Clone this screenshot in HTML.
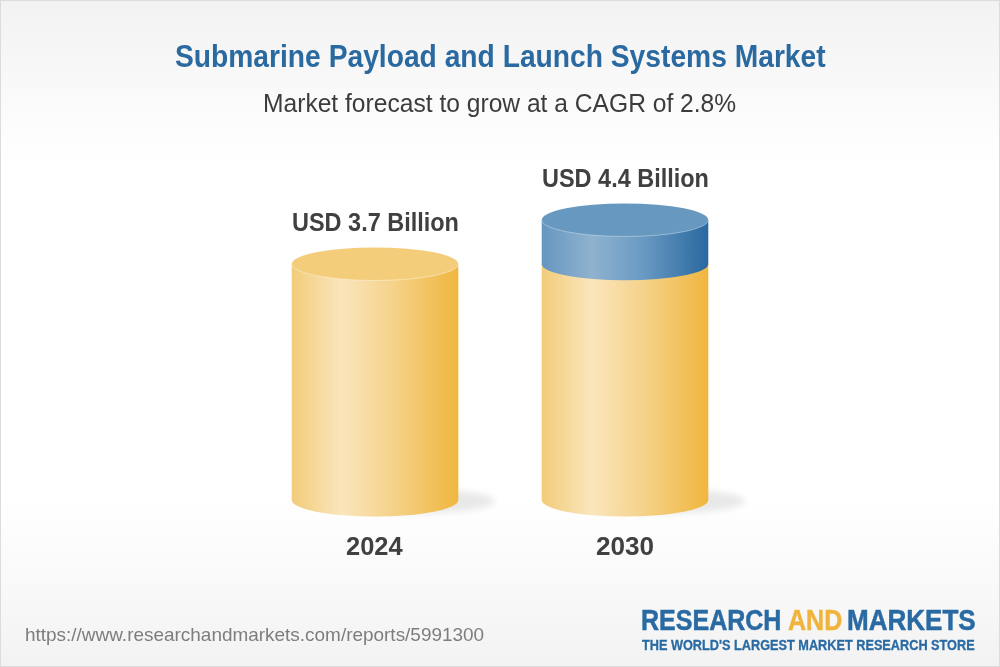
<!DOCTYPE html>
<html><head><meta charset="utf-8">
<style>
html,body{margin:0;padding:0;}
body{width:1000px;height:667px;overflow:hidden;position:relative;font-family:"Liberation Sans",sans-serif;}
#bg{position:absolute;left:0;top:0;width:998px;height:665px;border:1px solid #dcdcdc;
background:linear-gradient(to bottom,#f2f2f2 0px,#fbfbfb 108px,#ffffff 165px,#ffffff 495px,#f9f9f9 585px,#f2f2f2 667px);}
.t{position:absolute;white-space:nowrap;line-height:1;transform-origin:0 0;}
#title{left:175px;top:40px;font-size:32px;font-weight:bold;color:#2a6aa0;}
#sub{left:265px;top:89px;font-size:26px;color:#3c3c3c;}
.val{font-size:26px;font-weight:bold;color:#404040;}
.yr{font-size:26px;font-weight:bold;color:#404040;}
#url{left:26px;top:625px;font-size:19px;color:#7c7c7c;}
#logo1{left:642px;top:606px;font-size:28px;font-weight:bold;color:#2a6aa3;}
#logo1 span{color:#f0b53c;}
#logo2{left:642px;top:637px;font-size:14px;font-weight:bold;color:#2a6aa3;}
svg{position:absolute;left:0;top:0;}
</style></head><body>
<div id="bg"></div>
<svg width="1000" height="667" viewBox="0 0 1000 667">
<defs>
<linearGradient id="ys" x1="0" x2="1" y1="0" y2="0">
<stop offset="0" stop-color="#f2cc7a"/>
<stop offset="0.3" stop-color="#fae5bc"/>
<stop offset="0.6" stop-color="#f5d38c"/>
<stop offset="1" stop-color="#f0b63e"/>
</linearGradient>
<linearGradient id="bs" x1="0" x2="1" y1="0" y2="0">
<stop offset="0" stop-color="#6596c0"/>
<stop offset="0.3" stop-color="#8fb2cf"/>
<stop offset="0.6" stop-color="#6a9bc3"/>
<stop offset="1" stop-color="#2a68a0"/>
</linearGradient>
<filter id="blur" x="-50%" y="-50%" width="200%" height="200%"><feGaussianBlur stdDeviation="3.5"/></filter>
</defs>
<!-- shadows -->
<ellipse cx="415" cy="501" rx="80" ry="12.5" fill="#000" opacity="0.085" filter="url(#blur)"/>
<ellipse cx="665" cy="501" rx="80" ry="12.5" fill="#000" opacity="0.085" filter="url(#blur)"/>
<!-- cylinder 1 -->
<path d="M291.7 264 V500 A83.3 16.5 0 0 0 458.3 500 V264 Z" fill="url(#ys)"/>
<ellipse cx="375" cy="264" rx="83.3" ry="16.5" fill="#f3cd7a"/>
<path d="M291.7 264 A83.3 16.5 0 0 0 458.3 264" fill="none" stroke="#fff" stroke-opacity="0.45" stroke-width="0.9"/>
<!-- cylinder 2 -->
<path d="M541.7 264 V500 A83.3 16.5 0 0 0 708.3 500 V264 Z" fill="url(#ys)"/>
<path d="M541.7 220 V264 A83.3 16.3 0 0 0 708.3 264 V220 Z" fill="url(#bs)"/>
<ellipse cx="625" cy="220" rx="83.3" ry="16.5" fill="#6698c0"/>
<path d="M541.7 220 A83.3 16.5 0 0 0 708.3 220" fill="none" stroke="#fff" stroke-opacity="0.4" stroke-width="0.9"/>
</svg>
<div class="t" id="title" style="left:174.60px;top:40.00px;font-size:32px;font-weight:bold;color:#2a6aa0;transform:scaleX(0.8816);">Submarine Payload and Launch Systems Market</div>
<div class="t" id="sub" style="left:263.00px;top:90.20px;font-size:26px;font-weight:normal;color:#3c3c3c;transform:scaleX(0.9464);">Market forecast to grow at a CAGR of 2.8%</div>
<div class="t" id="v1" style="left:292.20px;top:210.40px;font-size:25.5px;font-weight:bold;color:#404040;transform:scaleX(0.9204);">USD 3.7 Billion</div>
<div class="t" id="v2" style="left:542.20px;top:166.00px;font-size:25.5px;font-weight:bold;color:#404040;transform:scaleX(0.9204);">USD 4.4 Billion</div>
<div class="t" id="y1" style="left:345.98px;top:534.00px;font-size:25.5px;font-weight:bold;color:#404040;transform:scaleX(0.9978);">2024</div>
<div class="t" id="y2" style="left:595.96px;top:534.00px;font-size:25.5px;font-weight:bold;color:#404040;transform:scaleX(1.0237);">2030</div>
<div class="t" id="url" style="left:25.15px;top:625.60px;font-size:18.5px;font-weight:normal;color:#7d7d7d;transform:scaleX(1.0241);">https://www.researchandmarkets.com/reports/5991300</div>
<div class="t" id="l1" style="left:641.04px;top:606.40px;font-size:29px;font-weight:bold;color:#2a6aa3;transform:scaleX(0.8628);-webkit-text-stroke:0.5px #2a6aa3;">RESEARCH</div>
<div class="t" id="l2" style="left:788.46px;top:606.40px;font-size:29px;font-weight:bold;color:#f0b43c;transform:scaleX(0.8632);-webkit-text-stroke:0.5px #f0b43c;">AND</div>
<div class="t" id="l3" style="left:846.78px;top:606.40px;font-size:29px;font-weight:bold;color:#2a6aa3;transform:scaleX(0.8971);-webkit-text-stroke:0.5px #2a6aa3;">MARKETS</div>
<div class="t" id="tag" style="left:641.80px;top:638.00px;font-size:14px;font-weight:bold;color:#2a6aa3;transform:scaleX(0.9082);-webkit-text-stroke:0.3px #2a6aa3;">THE WORLD'S LARGEST MARKET RESEARCH STORE</div>
</body></html>
